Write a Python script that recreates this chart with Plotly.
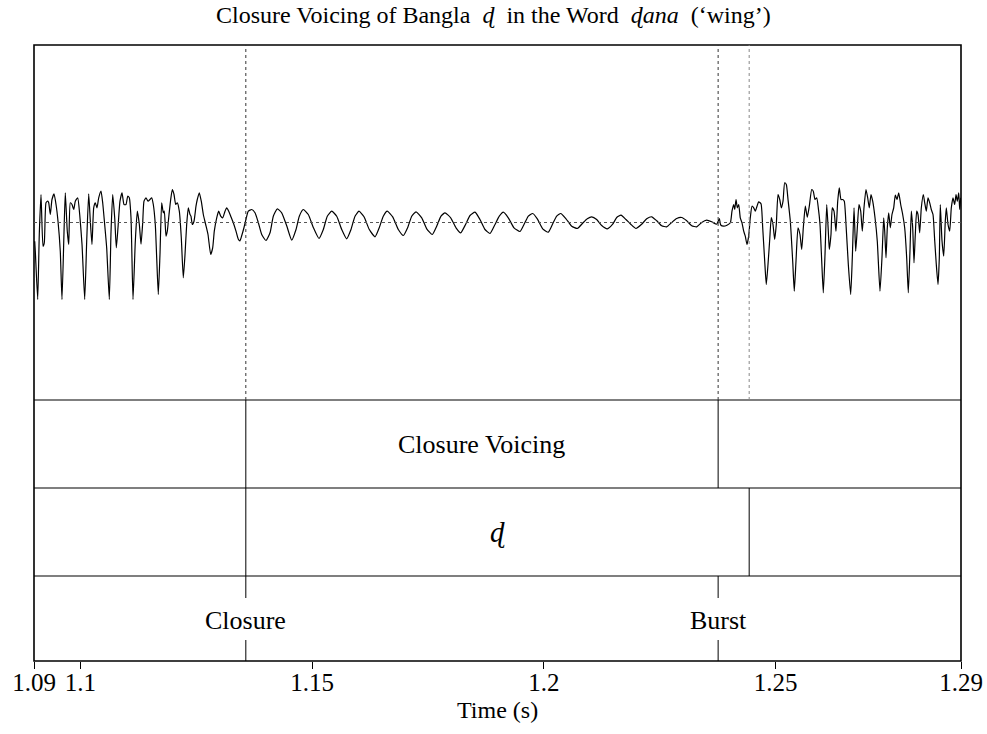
import plotly.graph_objects as go

# ---------------- data ----------------
t_start, t_end = 1.09, 1.29
tick_vals = [1.09, 1.1, 1.15, 1.2, 1.25, 1.29]
tick_text = ["1.09", "1.1", "1.15", "1.2", "1.25", "1.29"]

# waveform samples: time offset from 1.09 s (ms) and amplitude (arbitrary units)
wave_ms = [
    0.15, 0.28, 0.80, 1.14, 1.51, 1.94, 2.22, 2.59, 2.96, 3.17, 3.52, 3.88, 4.32, 4.75, 5.18, 5.67,
    6.04, 6.47, 6.75, 7.18, 7.49, 7.83, 8.20, 8.57, 8.91, 9.43, 9.86, 10.36, 10.94, 11.37, 11.80,
    12.15, 12.51, 12.88, 13.23, 13.59, 13.96, 14.46, 14.82, 15.25, 15.68, 16.25, 16.61, 16.98,
    17.41, 17.76, 18.12, 18.55, 18.99, 19.42, 19.85, 20.22, 20.56, 20.93, 21.36, 21.86, 22.29,
    22.72, 23.09, 23.45, 23.73, 24.16, 24.60, 25.03, 25.39, 25.74, 26.17, 26.47, 26.82, 27.18,
    27.55, 27.90, 28.11, 28.48, 28.76, 29.13, 29.49, 29.84, 30.21, 30.57, 30.92, 31.35, 31.78,
    32.21, 32.58, 32.94, 33.29, 33.66, 33.87, 34.15, 34.52, 34.95, 35.23, 35.66, 36.09, 36.53,
    37.04, 37.54, 38.12, 38.55, 38.90, 39.42, 39.85, 40.28, 40.71, 41.21, 41.58, 42.01, 42.44,
    43.00, 43.58, 44.08, 44.44, 44.81, 45.31, 45.74, 46.24, 46.97, 47.68, 48.39, 49.13, 50.05,
    50.92, 51.63, 52.49, 53.44, 54.52, 55.60, 56.53, 57.24, 58.10, 59.18, 60.26, 61.49, 62.42,
    63.28, 64.23, 65.31, 66.39, 67.46, 68.39, 69.26, 70.12, 71.20, 72.34, 73.57, 74.50, 75.36,
    76.22, 77.39, 78.60, 79.68, 80.63, 81.49, 82.42, 83.65, 84.73, 85.93, 86.88, 87.81, 88.67,
    89.90, 91.05, 92.06, 93.14, 94.07, 95.15, 96.22, 97.30, 98.38, 99.46, 100.39, 101.25, 102.33,
    103.56, 104.85, 105.93, 106.65, 107.59, 108.59, 109.75, 110.96, 112.04, 112.77, 113.64,
    114.78, 116.01, 117.22, 118.51, 119.37, 120.32, 121.40, 122.48, 123.69, 124.85, 125.72,
    126.65, 127.72, 128.74, 129.88, 131.11, 132.19, 133.27, 134.35, 135.42, 136.50, 137.58,
    138.66, 139.74, 140.82, 141.90, 142.98, 144.06, 145.13, 146.21, 147.29, 147.86, 148.16,
    148.80, 149.51, 150.23, 150.59, 150.96, 151.18, 151.46, 151.74, 152.04, 152.38, 152.75,
    153.12, 153.46, 153.83, 154.19, 154.54, 154.91, 155.28, 155.62, 155.99, 156.35, 156.85,
    157.22, 157.65, 157.99, 158.36, 158.73, 159.07, 159.44, 159.80, 160.15, 160.52, 160.89,
    161.23, 161.60, 161.96, 162.31, 162.68, 163.17, 163.69, 164.03, 164.40, 164.83, 165.26,
    165.63, 165.98, 166.41, 166.84, 167.27, 167.79, 168.13, 168.50, 168.87, 169.21, 169.58,
    169.95, 170.29, 170.66, 171.03, 171.37, 171.59, 171.95, 172.23, 172.60, 173.03, 173.40,
    173.74, 174.11, 174.48, 174.82, 175.19, 175.69, 176.20, 176.55, 176.92, 177.28, 177.63,
    177.99, 178.36, 178.71, 179.07, 179.50, 179.87, 180.21, 180.58, 180.95, 181.45, 181.94,
    182.52, 182.95, 183.32, 183.54, 183.82, 184.10, 184.40, 184.75, 185.11, 185.48, 185.83,
    186.20, 186.56, 186.99, 187.42, 187.85, 188.28, 188.63, 188.99, 189.28, 189.58, 189.86,
    190.14, 190.44, 190.72, 191.09, 191.44, 191.87, 192.17, 192.51, 192.88, 193.25, 193.59,
    193.96, 194.33, 194.67, 195.04, 195.32, 195.53, 195.90, 196.27, 196.61, 196.83, 197.20,
    197.56, 197.91, 198.27, 198.64, 198.93, 199.21, 199.51, 199.72, 199.94,
]
wave_amp = [
    -18.7, -28.7, -77, -12, 28, -23.7, -20.3, 19.7, 21.3, 19.7, 8, 23, 28.7, 18, 1.3, -28.7,
    -77, -10.3, 29.7, -8.7, -22, 19.7, 18, 13, 21.3, 24.7, 8, -22, -77, -18.7, 28.7,
    1.3, -22, 14.7, 19.7, 14.7, 24.7, 31.3, 19.7, -2, -25.3, -77, -10.3, 28,
    4.7, -25.3, -5.3, 21.3, 29.7, 18, 18, 26.3, 24.7, 4.7, -77, -18.7, 11.3,
    -1.7, -21.7, -0.3, 21.3, 24.7, 21.3, 23, 24.7, 18, -2, -35.3, -72, -32,
    19.7, 9.7, 11.3, -13.7, -8.7, 8, 23, 33, 28, 18, 19.7, 11.3, -15.3,
    -55.3, -32, -2, 14.7, 8, 6.3, -2, 1.3, 16.3, 23, 29.7, 21.3, 8,
    -2, -12, -32, -25.3, -8.7, 4.7, 11.3, 6.3, 4.7, 11.3, 14.7, 11.3, 6.3,
    -0.3, -8.7, -16.7, -18.3, -13.3, -5, 3.3, 11.3, 13, 9.7, 0, -12, -18,
    -10.3, 6.3, 13.7, 9.7, -3.3, -17.7, -7, 6.3, 13, 8, -5, -16, -7,
    6.3, 11.3, 6.3, -7, -16.3, -7, 6.3, 11.3, 5.7, -7, -14.3, -5, 6.3,
    11.3, 5.7, -7, -13, -5, 6.3, 10.7, 4.7, -6.3, -12, -3.7, 6.3, 9.7,
    4.7, -5.3, -10.3, -1.7, 7, 10.3, 3, -7, -11, -2, 6.3, 10.3, 4.7,
    -5.3, -9, 0, 6.3, 9, 3.7, -6.3, -9.7, 0, 6.3, 9,
    3.7, -3.7, -6, 0, 3.7, 5.7, 3, -3, -6.3, -1.7, 5,
    7.3, 3, -1.7, -6, -1.7, 3.7, 5.7, 1.7, -3.3, -4.3, 0,
    4, 5, 1.7, -3.3, -4.3, 0, 2.3, 0.7, -1.7, 4, -2.5,
    -3.7, -2.7, -0.3, 11.3, 18, 13, 23, 14.7, 18, 4.7, -0.3,
    -8.7, -13.7, -22, -13.7, 4.7, 16.3, 14.7, 11.3, 16.3, 20.7, 18.7,
    -5.3, -38.7, -62, -42, -17, 5, -2, -17, -2, 28, 23,
    14.7, 21.3, 39.7, 38, 23, 1.7, -38.7, -68.7, -38.7, -5.3, -12,
    -27, -5.3, 16.3, 5.3, 16.3, 33, 31.3, 23, 24.7, 14.7, -2,
    -38.7, -70.3, -32, 18, -8.7, -27, -12, 14.7, 11.3, -8.7, 21.3,
    34.7, 23, 23, 21.3, -2, -42, -72, -35.3, 14.7, -28.7, -5.3,
    18, 11.3, -8.7, 14.7, 33, 24.7, 14.7, 28, 21.3, 4.7, -18.7,
    -68.7, -35.3, 4.7, -8.7, -35.3, -5.3, 9.7, -5.3, 8, 14.7, 27.3,
    23, 29.7, 18, 8, -5.3, -35.3, -70.3, -28.7, 11.3, -5.3, -40.3,
    -12, 11.3, 8, -10.3, 14.7, 28, 19.7, 11.3, 24.7, 19.7, 13,
    8, -18.3, -42, -62, -35.3, 18, -18.3, -33.7, 1.3, 14.7, -2,
    -8.7, 14.7, 24.7, 18, 28, 21.3, 29.7, 13, 24.7,
]

# annotation tiers
closure_time = 1.1357      # closure onset
burst_time = 1.2376        # burst
stop_end_time = 1.2443     # end of the stop interval
tier1_label = "Closure Voicing"
tier2_label = "<i>ɖ</i>"
tier3_points = [(closure_time, "Closure"), (burst_time, "Burst")]
title_text = "Closure Voicing of Bangla\u2002<i>ɖ</i>\u2002in the Word\u2002<i>ɖana</i>\u2002(‘wing’)"

# ---------------- figure ----------------
wave_t = [t_start + m / 1000.0 for m in wave_ms]

W, H = 987, 734
L, R, T, B = 34, 26, 45, 73
ph = H - T - B  # 616


def py(ypix):
    """paper y for a pixel row (for layout only)"""
    return (H - B - ypix) / ph


wave_dom_bottom = py(400)
tier_edges = [py(400), py(488), py(576)]

fig = go.Figure()
fig.add_trace(go.Scatter(
    x=wave_t, y=wave_amp, mode="lines",
    line=dict(color="black", width=1.2, shape="spline", smoothing=0.5),
    hoverinfo="skip", showlegend=False,
))

FONT = "Liberation Serif, Times New Roman, serif"

shapes = []
# outer frame
shapes.append(dict(type="rect", xref="paper", yref="paper", x0=0, x1=1, y0=0, y1=1,
                   line=dict(color="black", width=1.6)))
# tier separators
for e in tier_edges:
    shapes.append(dict(type="line", xref="paper", yref="paper", x0=0, x1=1, y0=e, y1=e,
                       line=dict(color="black", width=1.2)))
# zero line of waveform
shapes.append(dict(type="line", xref="paper", yref="y", x0=0, x1=1, y0=0, y1=0,
                   line=dict(color="#555555", width=1, dash="dot")))
# boundary lines through waveform
for bt, col in [(closure_time, "#333333"), (burst_time, "#333333"), (stop_end_time, "#888888")]:
    shapes.append(dict(type="line", xref="x", yref="paper", x0=bt, x1=bt, y0=wave_dom_bottom, y1=1,
                       line=dict(color=col, width=1, dash="dot")))
# tier 1 boundaries
for bt in [closure_time, burst_time]:
    shapes.append(dict(type="line", xref="x", yref="paper", x0=bt, x1=bt, y0=py(488), y1=py(400),
                       line=dict(color="black", width=1)))
# tier 2 boundaries
for bt in [closure_time, stop_end_time]:
    shapes.append(dict(type="line", xref="x", yref="paper", x0=bt, x1=bt, y0=py(576), y1=py(488),
                       line=dict(color="black", width=1)))
# tier 3 points (interrupted by text)
for bt, _ in tier3_points:
    shapes.append(dict(type="line", xref="x", yref="paper", x0=bt, x1=bt, y0=py(598), y1=py(576),
                       line=dict(color="black", width=1)))
    shapes.append(dict(type="line", xref="x", yref="paper", x0=bt, x1=bt, y0=0, y1=py(640),
                       line=dict(color="black", width=1)))

annotations = []


def ann(x, y, text, size, xref="x"):
    annotations.append(dict(x=x, y=y, xref=xref, yref="paper", text=text, showarrow=False,
                            xanchor="center", yanchor="middle",
                            font=dict(family=FONT, size=size, color="black")))


ann((closure_time + burst_time) / 2, py(444), tier1_label, 26)
ann((closure_time + stop_end_time) / 2, py(532), tier2_label, 29)
for bt, lab in tier3_points:
    ann(bt, py(620), lab, 26)
ann(0.4955, py(15), title_text, 24, xref="paper")
ann(0.5, py(710), "Time (s)", 24, xref="paper")

fig.update_layout(
    width=W, height=H,
    margin=dict(l=L, r=R, t=T, b=B, pad=0, autoexpand=False),
    paper_bgcolor="white", plot_bgcolor="white",
    showlegend=False,
    shapes=shapes, annotations=annotations,
    xaxis=dict(range=[t_start, t_end], tickvals=tick_vals, ticktext=tick_text,
               ticks="outside", ticklen=7, tickwidth=1, tickcolor="black",
               ticklabelstandoff=-8,
               showgrid=False, zeroline=False, showline=False, automargin=False,
               anchor="free", position=0,
               tickfont=dict(family=FONT, size=25, color="black")),
    yaxis=dict(domain=[wave_dom_bottom, 1], range=[-177.5, 177.5], automargin=False,
               showticklabels=False, showgrid=False, zeroline=False, ticks=""),
)

fig.write_html("out.html")
